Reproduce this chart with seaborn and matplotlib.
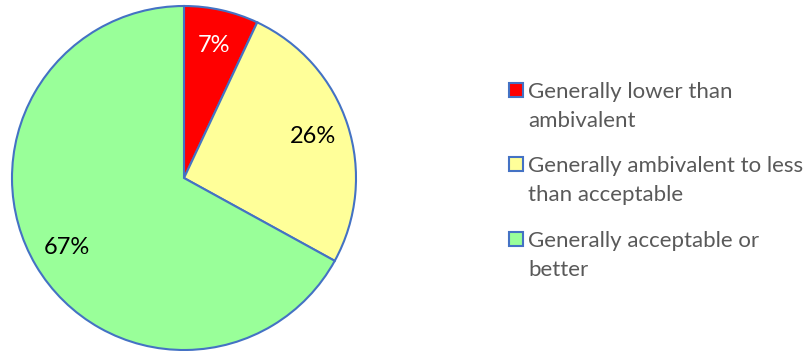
import matplotlib
matplotlib.use("Agg")
import matplotlib.pyplot as plt
import seaborn as sns
from matplotlib.patches import Rectangle

sns.set_theme(style="white")
plt.rcParams['font.family'] = ['Lato', 'DejaVu Sans']

categories = ["Generally lower than\nambivalent",
              "Generally ambivalent to less\nthan acceptable",
              "Generally acceptable or\nbetter"]
values = [7, 26, 67]
colors = ["#FF0000", "#FFFF99", "#99FF99"]
label_colors = ["white", "black", "black"]
edge = "#4472C4"

W, H = 808, 351
fig = plt.figure(figsize=(W / 100, H / 100), dpi=100)
ax = fig.add_axes([12 / W, 1 / H, 344 / W, 344 / H])
wedges, texts, autotexts = ax.pie(values, colors=colors, startangle=90, counterclock=False,
                                  autopct=lambda p: f"{p:.0f}%", pctdistance=0.79,
                                  wedgeprops=dict(edgecolor=edge, linewidth=1.5),
                                  textprops=dict(fontsize=17))
for t, c in zip(autotexts, label_colors):
    t.set_color(c)
ax.set_xlim(-1.0, 1.0)
ax.set_ylim(-1.0, 1.0)
ax.set_aspect('equal')
ax.axis('off')

# legend (drawn manually so the marker aligns with the first text line)
baselines = [98, 172, 247]
line_gap = 29
for cat, col, yb in zip(categories, colors, baselines):
    fig.patches.append(Rectangle((509 / W, 1 - (yb - 1) / H), 14 / W, 14 / H,
                                 transform=fig.transFigure, facecolor=col,
                                 edgecolor=edge, linewidth=1.5))
    for i, line in enumerate(cat.split("\n")):
        fig.text(528 / W, 1 - (yb + i * line_gap) / H, line, fontsize=16, color="#595959",
                 ha='left', va='baseline')

fig.savefig("out.png", dpi=100)
